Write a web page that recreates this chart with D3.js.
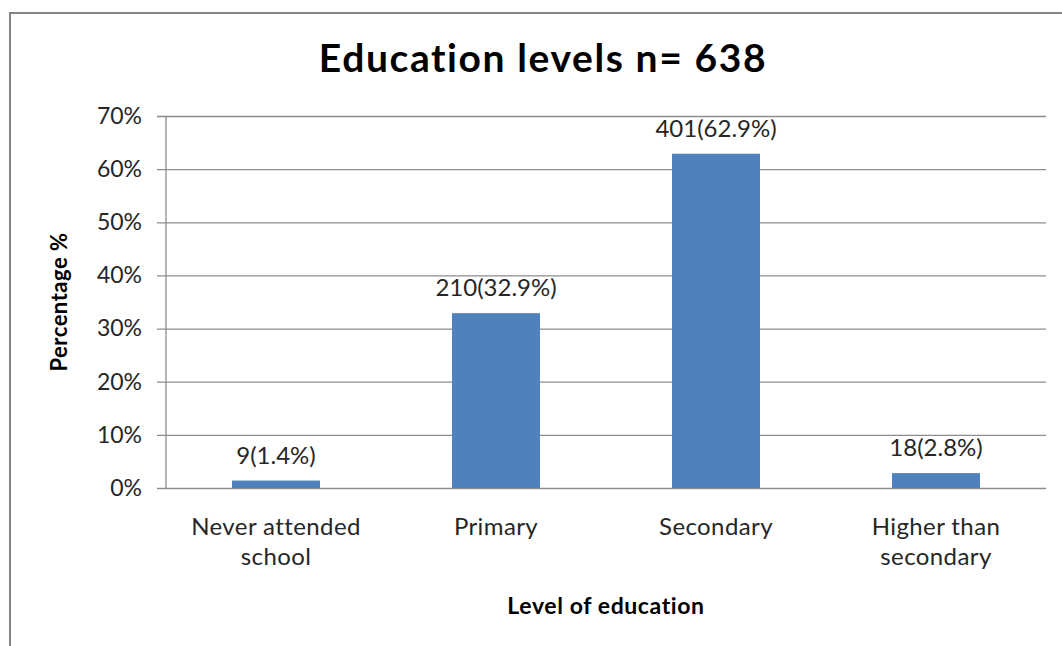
<!DOCTYPE html>
<html>
<head>
<meta charset="utf-8">
<script src="https://cdn.jsdelivr.net/npm/d3@7"></script>
<style>
  html, body { margin: 0; padding: 0; background: #ffffff; }
  svg { display: block; }
  text { font-family: Lato, "Open Sans", sans-serif; font-variant-ligatures: none; font-feature-settings: "liga" 0, "clig" 0; }
</style>
</head>
<body>
<svg id="chart" width="1062" height="646"></svg>
<script>
// ---- data ----
const categories = [["Never attended", "school"], ["Primary"], ["Secondary"], ["Higher than", "secondary"]];
const counts = [9, 210, 401, 18];
const percents = [1.4, 32.9, 62.9, 2.8];
const yTicks = [0, 10, 20, 30, 40, 50, 60, 70];
const titleText = "Education levels n= 638";
const xTitle = "Level of education";
const yTitle = "Percentage %";

const svg = d3.select("#chart");
const W = 1062, H = 646;
const margin = { left: 166, right: 16, top: 116, bottom: 158 };
const plotW = W - margin.left - margin.right;
const plotH = H - margin.top - margin.bottom;

// outer border (Excel chart area frame)
svg.append("rect")
  .attr("x", 10).attr("y", 13)
  .attr("width", W + 20).attr("height", H + 20)
  .attr("fill", "#ffffff")
  .attr("stroke", "#868686").attr("stroke-width", 2);

const g = svg.append("g").attr("transform", `translate(${margin.left},${margin.top})`);

const x = d3.scaleBand()
  .domain(d3.range(categories.length))
  .range([0, plotW])
  .paddingInner(0.6).paddingOuter(0.3);

const y = d3.scaleLinear().domain([0, 70]).range([plotH, 0]);

// gridlines + ticks
const yAxis = d3.axisLeft(y)
  .tickValues(yTicks)
  .tickFormat(d => d + "%")
  .tickSize(-plotW)
  .tickPadding(14);

const ya = g.append("g").call(yAxis);
ya.select(".domain").remove();
ya.selectAll(".tick line")
  .attr("stroke", "#8c8c8c").attr("stroke-width", 1.3)
  .attr("x1", -9);
ya.selectAll(".tick text")
  .attr("x", -24)
  .attr("fill", "#262626")
  .style("font-size", "23px");

// vertical axis line
g.append("line")
  .attr("x1", 0).attr("x2", 0)
  .attr("y1", 0).attr("y2", plotH)
  .attr("stroke", "#8c8c8c").attr("stroke-width", 1.3);

// bars
g.selectAll("rect.bar")
  .data(percents)
  .join("rect")
  .attr("class", "bar")
  .attr("x", (d, i) => x(i))
  .attr("width", x.bandwidth())
  .attr("y", d => y(d))
  .attr("height", d => plotH - y(d))
  .attr("fill", "#4f81bd");

// data labels
g.selectAll("text.lbl")
  .data(percents)
  .join("text")
  .attr("class", "lbl")
  .attr("x", (d, i) => x(i) + x.bandwidth() / 2)
  .attr("y", d => y(d) - 17)
  .attr("text-anchor", "middle")
  .attr("fill", "#262626")
  .style("font-size", "24px")
  .text((d, i) => `${counts[i]}(${d}%)`);

// category labels
const cat = g.selectAll("text.cat")
  .data(categories)
  .join("text")
  .attr("class", "cat")
  .attr("text-anchor", "middle")
  .attr("fill", "#262626")
  .style("font-size", "24px")
  .attr("transform", (d, i) => `translate(${x(i) + x.bandwidth() / 2},${plotH + 47})`);
cat.selectAll("tspan")
  .data(d => d)
  .join("tspan")
  .attr("x", 0)
  .attr("dy", (d, j) => j === 0 ? 0 : 30)
  .style("letter-spacing", "0.4px")
  .text(d => d);

// title
svg.append("text")
  .attr("x", 543).attr("y", 72)
  .attr("text-anchor", "middle")
  .attr("fill", "#000000")
  .style("font-size", "39px")
  .style("font-weight", "bold")
  .style("letter-spacing", "1.6px")
  .text(titleText);

// x axis title
svg.append("text")
  .attr("x", margin.left + plotW / 2).attr("y", 614)
  .attr("text-anchor", "middle")
  .attr("fill", "#000000")
  .style("font-size", "23px")
  .style("font-weight", "bold")
  .style("letter-spacing", "0.6px")
  .text(xTitle);

// y axis title
svg.append("text")
  .attr("transform", `translate(67,${margin.top + plotH / 2}) rotate(-90)`)
  .attr("text-anchor", "middle")
  .attr("fill", "#000000")
  .style("font-size", "22px")
  .style("font-weight", "bold")
  .style("letter-spacing", "0.5px")
  .text(yTitle);
</script>
</body>
</html>
